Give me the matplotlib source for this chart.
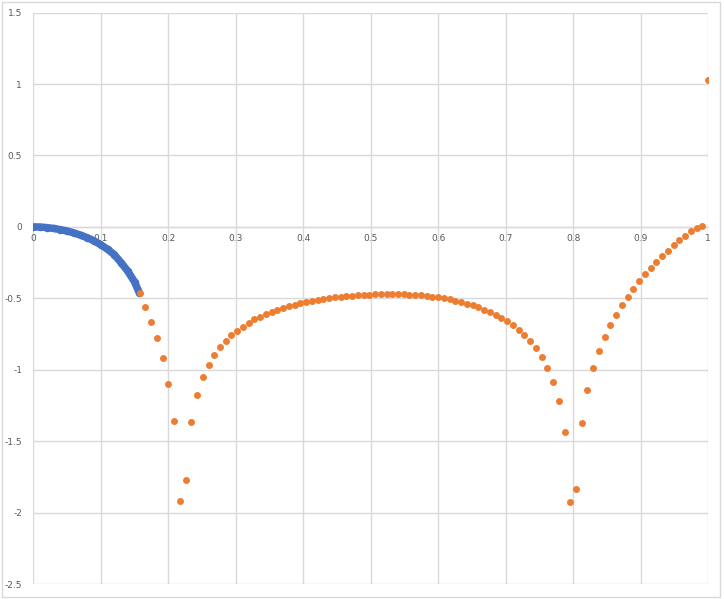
import matplotlib.pyplot as plt
from matplotlib.patches import Rectangle

# blue series, dense curve near the origin
blue_x = [0.0, 0.01, 0.02, 0.03, 0.04, 0.05, 0.06, 0.07, 0.08, 0.09,
          0.10, 0.11, 0.12, 0.13, 0.14, 0.15, 0.157]
blue_y = [0.0, -0.001, -0.005, -0.011, -0.019, -0.029, -0.042, -0.058, -0.076, -0.098,
          -0.125, -0.157, -0.194, -0.250, -0.310, -0.385, -0.460]

# orange series
orange_x = [0.1576, 0.1661, 0.1746, 0.1831, 0.1916, 0.2001, 0.2087, 0.2172, 0.2257, 0.2342,
            0.2427, 0.2512, 0.2597, 0.2682, 0.2767, 0.2852, 0.2937, 0.3023, 0.3108, 0.3193,
            0.3278, 0.3363, 0.3448, 0.3533, 0.3618, 0.3703, 0.3788, 0.3873, 0.3959, 0.4044,
            0.4129, 0.4214, 0.4299, 0.4384, 0.4469, 0.4554, 0.4639, 0.4724, 0.4809, 0.4895,
            0.4980, 0.5065, 0.5150, 0.5235, 0.5320, 0.5405, 0.5490, 0.5575, 0.5660, 0.5745,
            0.5831, 0.5916, 0.6001, 0.6086, 0.6171, 0.6256, 0.6341, 0.6426, 0.6511, 0.6596,
            0.6681, 0.6767, 0.6852, 0.6937, 0.7022, 0.7107, 0.7192, 0.7277, 0.7362, 0.7447,
            0.7532, 0.7617, 0.7703, 0.7788, 0.7873, 0.7958, 0.8043, 0.8128, 0.8213, 0.8298,
            0.8383, 0.8468, 0.8553, 0.8639, 0.8724, 0.8809, 0.8894, 0.8979, 0.9064, 0.9149,
            0.9234, 0.9319, 0.9404, 0.9489, 0.9575, 0.9660, 0.9745, 0.9830, 0.9915, 1.0000]
orange_y = [-0.463, -0.561, -0.665, -0.781, -0.921, -1.100, -1.356, -1.919, -1.770, -1.365,
            -1.175, -1.054, -0.965, -0.898, -0.844, -0.798, -0.760, -0.727, -0.698, -0.670,
            -0.647, -0.628, -0.612, -0.596, -0.582, -0.568, -0.556, -0.544, -0.535, -0.526,
            -0.516, -0.509, -0.502, -0.498, -0.493, -0.489, -0.484, -0.482, -0.479, -0.477,
            -0.475, -0.473, -0.472, -0.472, -0.472, -0.472, -0.473, -0.475, -0.477, -0.479,
            -0.484, -0.489, -0.494, -0.500, -0.507, -0.516, -0.526, -0.537, -0.549, -0.563,
            -0.579, -0.596, -0.615, -0.637, -0.660, -0.690, -0.720, -0.758, -0.799, -0.850,
            -0.910, -0.989, -1.086, -1.221, -1.435, -1.928, -1.835, -1.373, -1.144, -0.989,
            -0.868, -0.769, -0.689, -0.614, -0.549, -0.488, -0.433, -0.381, -0.333, -0.289,
            -0.244, -0.205, -0.167, -0.128, -0.093, -0.061, -0.030, -0.005, 0.007, 1.026]

x_ticks = [0, 0.1, 0.2, 0.3, 0.4, 0.5, 0.6, 0.7, 0.8, 0.9, 1]
x_labels = ['0', '0.1', '0.2', '0.3', '0.4', '0.5', '0.6', '0.7', '0.8', '0.9', '1']
y_ticks = [-2.5, -2, -1.5, -1, -0.5, 0, 0.5, 1, 1.5]
y_labels = ['-2.5', '-2', '-1.5', '-1', '-0.5', '0', '0.5', '1', '1.5']

grid_color = '#d9d9d9'
text_color = '#595959'

fig = plt.figure(figsize=(7.24, 5.99), dpi=100)
ax = fig.add_axes([0.046, 0.025, 0.932, 0.954])

# chart area border like excel
fig.patches.append(Rectangle((0.003, 0.004), 0.991, 0.992, transform=fig.transFigure,
                             fill=False, edgecolor=grid_color, linewidth=1))

ax.plot(blue_x, blue_y, color='#4472C4', linewidth=5.4, marker='o', markersize=5.4,
        markeredgewidth=0, solid_capstyle='round', zorder=3)
ax.plot(orange_x, orange_y, linestyle='none', color='#ED7D31', marker='o', markersize=5,
        markeredgewidth=0, zorder=4)

ax.set_xlim(0, 1)
ax.set_ylim(-2.5, 1.5)
ax.set_xticks(x_ticks)
ax.set_xticklabels(x_labels)
ax.set_yticks(y_ticks)
ax.set_yticklabels(y_labels)

# x axis sits on y = 0
for side in ['top', 'right', 'left']:
    ax.spines[side].set_visible(False)
ax.spines['bottom'].set_position(('data', 0))
ax.spines['bottom'].set_color(grid_color)
ax.spines['bottom'].set_linewidth(1)

ax.grid(True, color=grid_color, linewidth=1)
ax.set_axisbelow(True)
ax.tick_params(axis='both', length=0, labelsize=6.5, labelcolor=text_color)
ax.tick_params(axis='x', pad=5)
ax.tick_params(axis='y', pad=8)

plt.savefig('out.png', dpi=100)
